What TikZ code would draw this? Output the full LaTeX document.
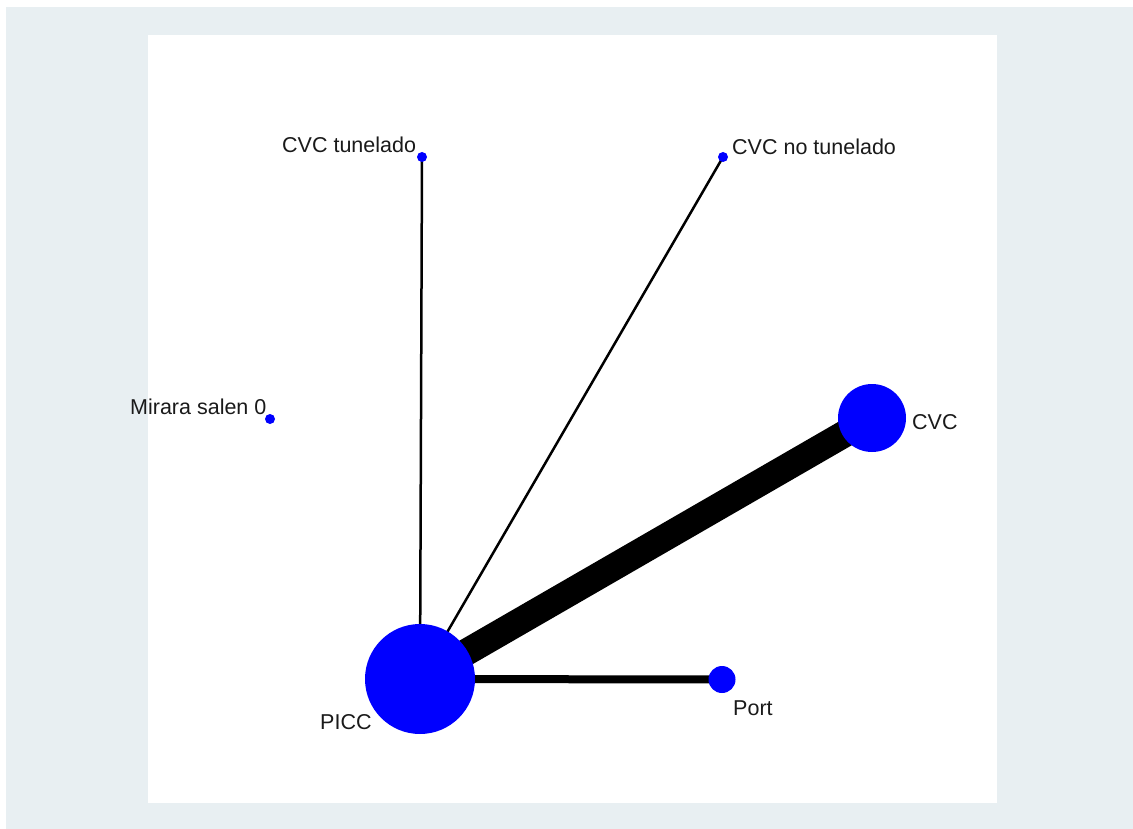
\documentclass[tikz,border=0pt]{standalone}
\usepackage{fontspec}
\setmainfont{Liberation Sans}
\definecolor{outerbg}{HTML}{E8EFF2}
\definecolor{nodeblue}{HTML}{0000FF}
\definecolor{labelc}{HTML}{1A1A1A}
\pgfdeclarelayer{bg}
\pgfdeclarelayer{edges}
\pgfsetlayers{bg,edges,main}
\tikzset{
  trt/.style={circle, fill=nodeblue, draw=none, inner sep=0pt, minimum size=#1},
  lbl/.style={anchor=base west, inner sep=0pt, text=labelc, font=\fontsize{21.5}{26}\selectfont},
  edge/.style={draw=black, line width=#1, line cap=butt}
}
\begin{document}
\begin{tikzpicture}[x=1pt,y=-1pt]
\useasboundingbox (0,0) rectangle (1133,829);
\begin{pgfonlayer}{bg}
  \fill[white] (0,0) rectangle (1133,829);
  \fill[outerbg] (6,7) rectangle (1133,829);
  \fill[white] (148,35) rectangle (997,803);
\end{pgfonlayer}
% nodes
\node[trt=110pt] (picc) at (420,679) {};
\node[trt=68pt] (cvc) at (872,418) {};
\node[trt=27pt] (port) at (722,679.5) {};
\node[trt=10pt] (tun) at (422,157) {};
\node[trt=10pt] (notun) at (723,157) {};
\node[trt=10pt] (mir) at (270,419) {};
% labels
\node[lbl] (ltun) at (282,153) {CVC tunelado};
\node[lbl] (lnotun) at (732,155) {CVC no tunelado};
\node[lbl] (lmir) at (130,414) {Mirara salen 0};
\node[lbl] (lcvc) at (912,429) {CVC};
\node[lbl] (lpicc) at (320,729) {PICC};
\node[lbl] (lport) at (733,715) {Port};
% edges
\begin{pgfonlayer}{edges}
  \draw[edge=27pt] (picc.center) -- (cvc.center);
  \draw[edge=8pt] (picc.center) -- (port.center);
  \draw[edge=2.5pt] (picc.center) -- (tun.center);
  \draw[edge=2.5pt] (picc.center) -- (notun.center);
\end{pgfonlayer}
\end{tikzpicture}
\end{document}
